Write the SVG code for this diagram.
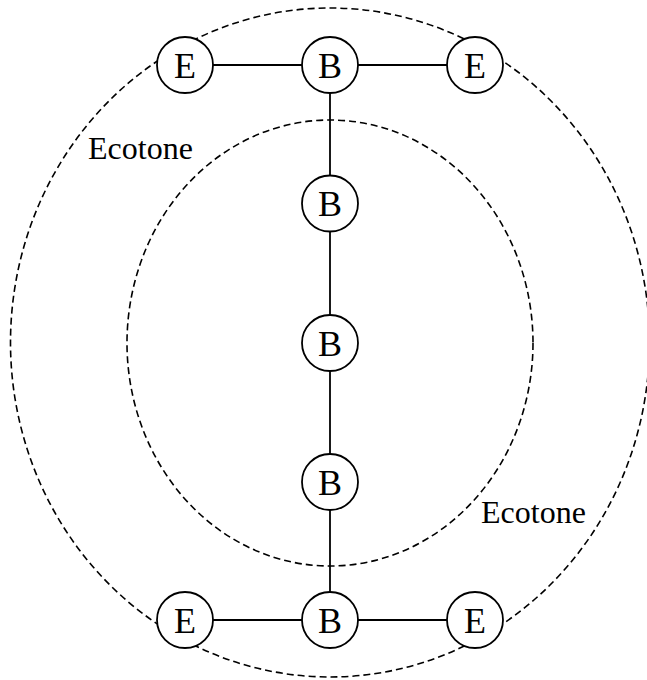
<svg xmlns="http://www.w3.org/2000/svg" width="647" height="680" viewBox="0 0 647 680">
<style>
.zone{fill:none;stroke:#000;stroke-width:1.6;stroke-dasharray:7,4}
.edge{stroke:#000;stroke-width:1.8;fill:none}
.node circle{fill:#fff;stroke:#000;stroke-width:1.8}
.node text{font-family:"Liberation Serif","Times New Roman",serif;font-size:36px;text-anchor:middle;fill:#000}
.label{font-family:"Liberation Serif","Times New Roman",serif;font-size:32px;fill:#000}
</style>
<rect width="647" height="680" fill="#fff"/>
<g id="zones">
<ellipse class="zone" cx="330" cy="342.5" rx="319.5" ry="334.5"/>
<ellipse class="zone" cx="330" cy="343" rx="203" ry="223"/>
</g>
<g id="connectors">
<line class="edge" x1="185" y1="65" x2="475" y2="65"/>
<line class="edge" x1="185" y1="620" x2="475" y2="620"/>
<line class="edge" x1="330" y1="65" x2="330" y2="620"/>
</g>
<g id="n_e_tl" class="node"><circle cx="185" cy="65" r="28"/><text x="185" y="77.5">E</text></g>
<g id="n_b_t" class="node"><circle cx="330" cy="65" r="28"/><text x="330" y="77.5">B</text></g>
<g id="n_e_tr" class="node"><circle cx="475" cy="65" r="28"/><text x="475" y="77.5">E</text></g>
<g id="n_b_2" class="node"><circle cx="330" cy="203.5" r="28"/><text x="330" y="216">B</text></g>
<g id="n_b_3" class="node"><circle cx="330" cy="343" r="28"/><text x="330" y="355.5">B</text></g>
<g id="n_b_4" class="node"><circle cx="330" cy="482" r="28"/><text x="330" y="494.5">B</text></g>
<g id="n_e_bl" class="node"><circle cx="185" cy="620" r="28"/><text x="185" y="632.5">E</text></g>
<g id="n_b_b" class="node"><circle cx="330" cy="620" r="28"/><text x="330" y="632.5">B</text></g>
<g id="n_e_br" class="node"><circle cx="475" cy="620" r="28"/><text x="475" y="632.5">E</text></g>
<text class="label" x="88" y="159">Ecotone</text>
<text class="label" x="481" y="523">Ecotone</text>
</svg>
